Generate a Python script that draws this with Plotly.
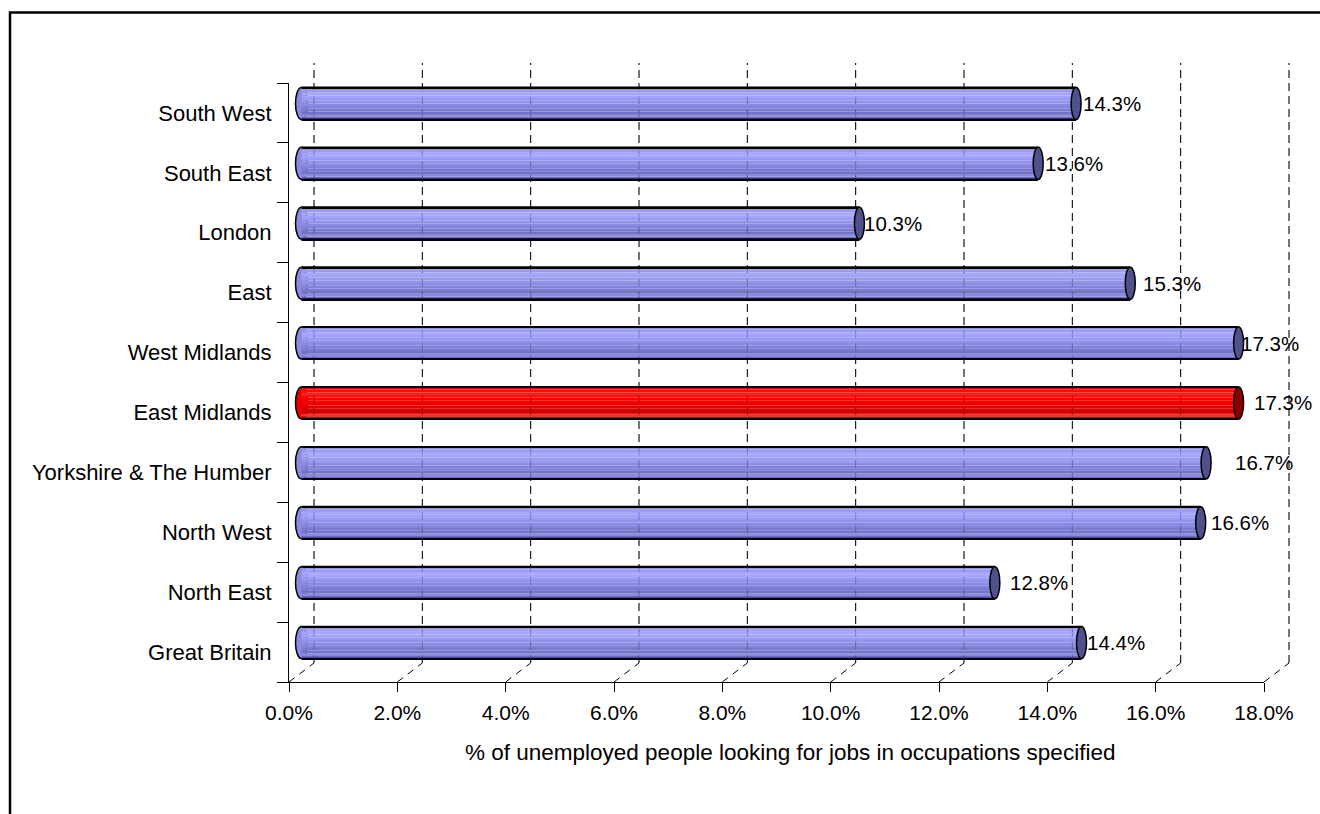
import plotly.graph_objects as go

# ---------------- data ----------------
regions = ["Great Britain", "North East", "North West", "Yorkshire & The Humber",
           "East Midlands", "West Midlands", "East", "London", "South East", "South West"]
values = [14.4, 12.8, 16.6, 16.7, 17.3, 17.3, 15.3, 10.3, 13.6, 14.3]
labels = ["14.4%", "12.8%", "16.6%", "16.7%", "17.3%", "17.3%", "15.3%", "10.3%", "13.6%", "14.3%"]
highlight = "East Midlands"
x_ticks = [0, 2, 4, 6, 8, 10, 12, 14, 16, 18]
x_ticktext = ["0.0%", "2.0%", "4.0%", "6.0%", "8.0%", "10.0%", "12.0%", "14.0%", "16.0%", "18.0%"]
x_title = "% of unemployed people looking for jobs in occupations specified"

# ---------------- style ----------------
W, H = 1320, 814
FONT = "Liberation Sans, Arial, sans-serif"
FS_CAT, FS_TICK, FS_LBL, FS_TITLE = 22, 21, 20.5, 22.5
label_shift = [4, 14, 9, 28, 14, 1, 12, 4, 6, 6]   # px offsets of data labels (style)

blue_stripes = ["#6a6ab8", "#8a8ada", "#7272c6", "#7a7ad0", "#8282da", "#8a8ae2",
                "#9292ea", "#9a9af2", "#a2a2fa", "#a6a6ff", "#9c9cf4", "#9494ec"]
red_stripes = ["#b80000", "#ff3030", "#cc0000", "#d80000", "#e40000", "#ee0000",
               "#f60000", "#ff0000", "#ff1010", "#ff2020", "#ff0808", "#f00000"]
blue_cap, red_cap = "#50508c", "#8a0000"
blue_mid, red_mid = "#8a8ae2", "#e80000"

def px2fx(p):
    return p / W

def py2fy(p):
    return 1 - p / H

# geometry (pixels)
front_x = (289, 1264)
front_y = (83, 682)
depth_dx, depth_dy = 25, 19
back_top = front_y[0] - depth_dy - 1
back_bottom = front_y[1] - depth_dy
px_per_unit = (front_x[1] - front_x[0]) / (x_ticks[-1] - x_ticks[0])
cat_px = (front_y[1] - front_y[0]) / len(regions)
bar_dx = (depth_dx / 2) / px_per_unit
bar_dy = (depth_dy / 2) / cat_px
BW = 0.535  # bar thickness in category units

def tick_px(v):
    return front_x[0] + (v - x_ticks[0]) * px_per_unit

fig = go.Figure()

# invisible trace so that the front (x, y) axes are created
fig.add_trace(go.Scatter(x=[], y=[], xaxis="x", yaxis="y", mode="markers",
                         hoverinfo="skip", showlegend=False))

# bar stripes (cylinder shading)
n = len(blue_stripes)
sw = BW / n
for k in range(n):
    cols = [red_stripes[k] if r == highlight else blue_stripes[k] for r in regions]
    fig.add_trace(go.Bar(
        orientation="h", y=regions, x=values, xaxis="x3", yaxis="y3",
        width=sw * 1.02, offset=-BW / 2 + k * sw,
        marker=dict(color=cols, line=dict(width=0)),
        hoverinfo="skip", showlegend=False))
# top/bottom outlines
t = 0.03
for off in (BW / 2 - t / 2, -BW / 2 - t / 2):
    fig.add_trace(go.Bar(
        orientation="h", y=regions, x=values, xaxis="x3", yaxis="y3",
        width=t, offset=off, marker=dict(color="#000000", line=dict(width=0)),
        hoverinfo="skip", showlegend=False))

shapes = []
annotations = []

# back wall dashed gridlines and floor diagonals
for tv in x_ticks:
    gx = px2fx(tick_px(tv) + depth_dx)
    shapes.append(dict(type="line", xref="paper", yref="paper",
                       x0=gx, x1=gx, y0=py2fy(back_bottom), y1=py2fy(back_top),
                       line=dict(color="#000000", width=1, dash="8px,5px"), layer="below"))
    # faint show-through over the bars
    shapes.append(dict(type="line", xref="paper", yref="paper",
                       x0=gx, x1=gx, y0=py2fy(back_bottom), y1=py2fy(back_top),
                       line=dict(color="#000000", width=1, dash="8px,5px"), opacity=0.18,
                       layer="above"))
    shapes.append(dict(type="line", xref="paper", yref="paper",
                       x0=px2fx(tick_px(tv)), x1=gx,
                       y0=py2fy(front_y[1]), y1=py2fy(back_bottom),
                       line=dict(color="#000000", width=1, dash="7px,6px"), layer="below"))

for i, (r, v) in enumerate(zip(regions, values)):
    hl = r == highlight
    # back (left) ellipse
    shapes.append(dict(type="circle", xref="x3", yref="y3", xsizemode="pixel",
                       xanchor=0, x0=-6, x1=6, y0=i - BW / 2, y1=i + BW / 2,
                       fillcolor=red_mid if hl else blue_mid,
                       line=dict(color="#000000", width=1.5), layer="below"))
    # front cap ellipse
    shapes.append(dict(type="circle", xref="x3", yref="y3", xsizemode="pixel",
                       xanchor=v, x0=-5, x1=5, y0=i - BW / 2, y1=i + BW / 2,
                       fillcolor=red_cap if hl else blue_cap,
                       line=dict(color="#000000", width=1.5), layer="above"))
    annotations.append(dict(xref="x3", yref="y3", x=v, y=i, text=labels[i],
                            xanchor="left", yanchor="middle", xshift=label_shift[i],
                            showarrow=False, font=dict(family=FONT, size=FS_LBL, color="#000000"),
                            borderpad=0))

# outer border
shapes.append(dict(type="rect", xref="paper", yref="paper",
                   x0=px2fx(10), x1=1.05, y0=-0.05, y1=py2fy(12.5),
                   line=dict(color="#000000", width=2.5), fillcolor="rgba(0,0,0,0)"))

annotations.append(dict(xref="paper", yref="paper", x=px2fx(790), y=py2fy(752),
                        text=x_title, showarrow=False, xanchor="center", yanchor="middle",
                        font=dict(family=FONT, size=FS_TITLE, color="#000000")))

fig.update_layout(
    width=W, height=H, margin=dict(l=0, r=0, t=0, b=0, autoexpand=False),
    paper_bgcolor="#ffffff", plot_bgcolor="rgba(0,0,0,0)",
    barmode="overlay", showlegend=False,
    font=dict(family=FONT, size=FS_TICK, color="#000000"),
    # front axes
    xaxis=dict(domain=[px2fx(front_x[0]), px2fx(front_x[1])], range=[0, 18],
               tickvals=x_ticks, ticktext=x_ticktext,
               ticks="outside", ticklen=9, tickcolor="#000000", tickwidth=1,
               showline=True, linecolor="#000000", linewidth=1,
               showgrid=False, zeroline=False, anchor="y", automargin=False,
               tickfont=dict(family=FONT, size=FS_TICK, color="#000000"), ticklabelstandoff=3),
    yaxis=dict(domain=[py2fy(front_y[1]), py2fy(front_y[0])], type="category",
               categoryarray=regions, categoryorder="array", range=[-0.5, 9.5],
               tickson="boundaries", ticks="outside", ticklen=11, tickcolor="#000000",
               showline=True, linecolor="#000000", linewidth=1, showgrid=False,
               zeroline=False, anchor="x", automargin=False,
               tickfont=dict(family=FONT, size=FS_CAT, color="#000000"), ticklabelstandoff=12),
    # bar axes (mid depth)
    xaxis3=dict(overlaying="x", range=[-bar_dx, 18 - bar_dx], visible=False, anchor="y3"),
    yaxis3=dict(overlaying="y", type="category", categoryarray=regions,
                categoryorder="array", range=[-0.5 - bar_dy, 9.5 - bar_dy],
                visible=False, anchor="x3"),
    shapes=shapes, annotations=annotations,
)

fig.write_html("out.html")
